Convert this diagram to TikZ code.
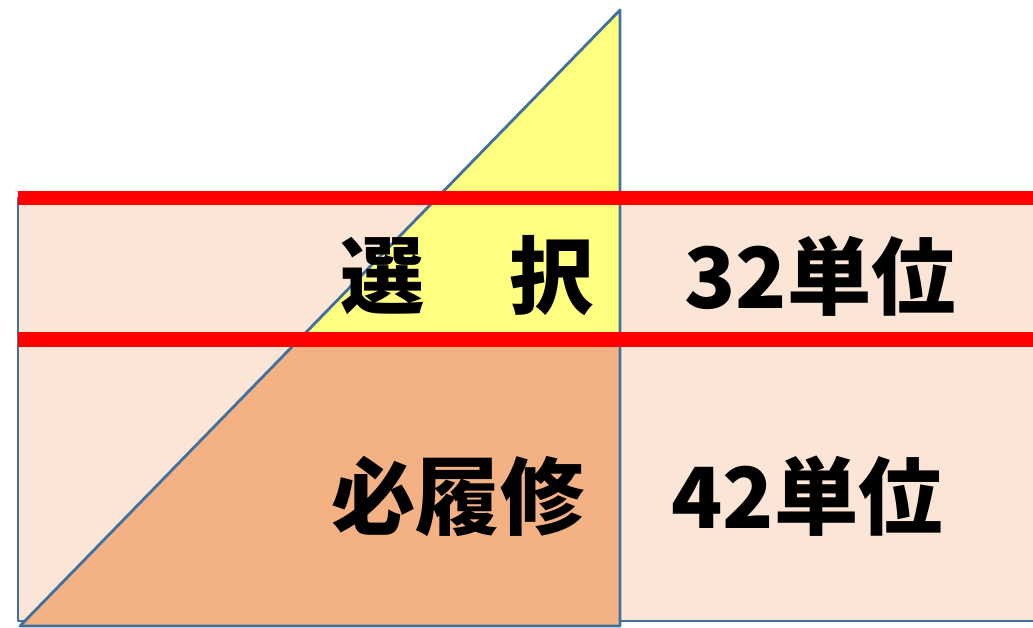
\documentclass[tikz,border=0pt]{standalone}
\usepackage{fontspec}
\newfontfamily\cjk{Noto Sans CJK JP}
\definecolor{bandPeach}{HTML}{FBE5D6}
\definecolor{wedgeYellow}{HTML}{FFFF80}
\definecolor{wedgeSalmon}{HTML}{F4B183}
\definecolor{edgeBlue}{HTML}{41719C}
\tikzstyle{fEdge} = [draw=edgeBlue, line width=1.6pt, line join=round]
\tikzstyle{fRedLine} = [draw=red, line width=8.5pt]
\tikzstyle{fLabel} = [font=\cjk\bfseries\fontsize{48}{48}\selectfont, inner sep=0pt, text=black]

\begin{document}
\begin{tikzpicture}[x=0.02cm, y=-0.02cm]
    \useasboundingbox (0,0) rectangle (1033,627);
    % band behind everything
    \fill [bandPeach] (18,197) rectangle (1033,621);
    \draw [fEdge] (1033,621) -- (18,621) -- (18,197);
    % wedge, split at the lower red line
    \fill [wedgeSalmon] (20,626) -- (298.6,340) -- (620,340) -- (620,626) -- cycle;
    \fill [wedgeYellow] (298.6,340) -- (620,10) -- (620,340) -- cycle;
    \draw [fEdge] (20,626) -- (620,10) -- (620,626) -- cycle;
    % red rules
    \draw [fRedLine] (18,198) -- (1033,198);
    \draw [fRedLine] (18,339.5) -- (1033,339.5);

    \node (electiveName) [fLabel, anchor=east] at (594,276) {選　択};
    \node (electiveUnits) [fLabel, anchor=west] at (684,276) {32単位};
    \node (requiredName) [fLabel, anchor=east] at (585,496) {必履修};
    \node (requiredUnits) [fLabel, anchor=west] at (671,496) {42単位};
\end{tikzpicture}
\end{document}
